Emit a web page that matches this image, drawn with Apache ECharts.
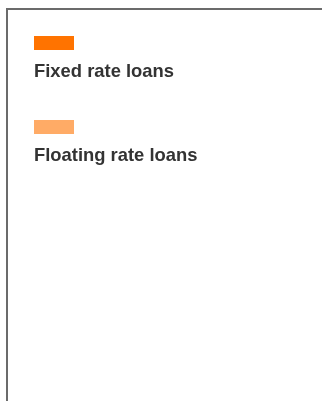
<!DOCTYPE html>
<html><head><meta charset="utf-8">
<script src="https://cdn.jsdelivr.net/npm/echarts@6/dist/echarts.min.js"></script>
<style>html,body{margin:0;padding:0;background:#fff}#c{width:322px;height:401px}</style>
</head><body><div id="c"></div>
<script>
// Data (the reference shows no plotted marks, only the legend)
const categories = [];
const seriesNames = ['Fixed rate loans', 'Floating rate loans'];
const fixedRate = [];
const floatingRate = [];
const colors = ['#ff7300', '#ffab66'];

const chart = echarts.init(document.getElementById('c'), null, {renderer: 'canvas'});
const font = '"Liberation Sans", Arial, Helvetica, sans-serif';
function mkLegend(i, top) {
  return {
    data: [seriesNames[i]],
    left: 24, top: top,
    orient: 'vertical',
    itemWidth: 0, itemHeight: 0,
    selectedMode: false,
    formatter: function (name) { return '{s|}\n{t|' + name + '}'; },
    textStyle: {
      rich: {
        s: {width: 40, height: 14, backgroundColor: colors[i], lineHeight: 14},
        t: {fontSize: 18.4, fontWeight: 'bold', color: '#333', fontFamily: font, lineHeight: 44, verticalAlign: 'middle'}
      }
    }
  };
}
chart.setOption({
  animation: false,
  color: colors,
  textStyle: {fontFamily: font},
  legend: [mkLegend(0, 31), mkLegend(1, 115)],
  grid: {show: false, left: 6, top: 8, right: 0, bottom: 0},
  xAxis: {type: 'category', data: categories, show: false},
  yAxis: {type: 'value', show: false},
  graphic: [{
    type: 'polyline', silent: true,
    shape: {points: [[7, 401], [7, 9], [322, 9]]},
    style: {stroke: '#6b6b6b', lineWidth: 2, fill: null}
  }],
  series: [
    {name: seriesNames[0], type: 'bar', data: fixedRate},
    {name: seriesNames[1], type: 'bar', data: floatingRate}
  ]
});
</script></body></html>
